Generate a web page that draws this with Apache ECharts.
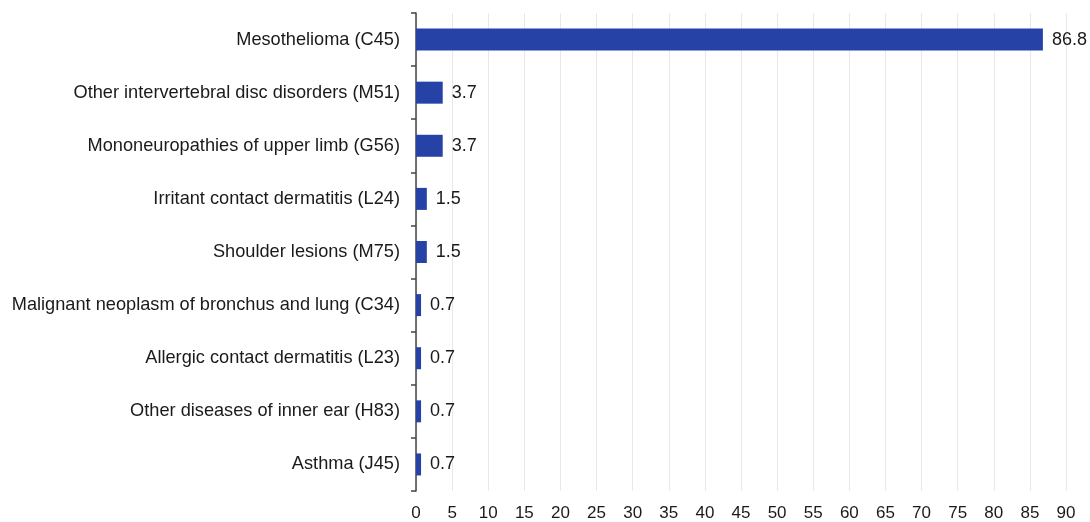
<!DOCTYPE html>
<html lang="en">
<head>
    <meta charset="UTF-8">
    <title>Chart</title>
    <script src="https://cdn.jsdelivr.net/npm/echarts@6/dist/echarts.min.js"></script>
    <style>
        html, body { margin: 0; padding: 0; background: #fff; }
        #chart1 { width: 1090px; height: 522px; }
    </style>
</head>
<body>
    <div id="chart1"></div>
    <script type="text/javascript">
        var categories = [
            'Mesothelioma (C45)',
            'Other intervertebral disc disorders (M51)',
            'Mononeuropathies of upper limb (G56)',
            'Irritant contact dermatitis (L24)',
            'Shoulder lesions (M75)',
            'Malignant neoplasm of bronchus and lung (C34)',
            'Allergic contact dermatitis (L23)',
            'Other diseases of inner ear (H83)',
            'Asthma (J45)'
        ];
        var values = [86.8, 3.7, 3.7, 1.5, 1.5, 0.7, 0.7, 0.7, 0.7];

        var chart1 = echarts.init(document.getElementById('chart1'));
        var option = {
            animation: false,
            grid: {
                left: 416,
                right: 24,
                top: 13,
                bottom: 31
            },
            xAxis: {
                type: 'value',
                min: 0,
                max: 90,
                interval: 5,
                axisLine: { show: false },
                axisTick: { show: false },
                axisLabel: {
                    color: '#1a1a1a',
                    fontSize: 17,
                    fontFamily: 'Liberation Sans',
                    margin: 14
                },
                splitLine: {
                    show: true,
                    lineStyle: { color: '#e8e8e8', width: 1 }
                }
            },
            yAxis: {
                type: 'category',
                inverse: true,
                data: categories,
                axisLine: {
                    show: true,
                    lineStyle: { color: '#444', width: 1.5 }
                },
                axisTick: {
                    show: true,
                    length: 5,
                    lineStyle: { color: '#444', width: 1.5 }
                },
                axisLabel: {
                    color: '#1a1a1a',
                    fontSize: 18.2,
                    fontFamily: 'Liberation Sans',
                    margin: 16
                }
            },
            series: [{
                type: 'bar',
                data: values,
                barWidth: 22,
                itemStyle: { color: '#2742a7' },
                label: {
                    show: true,
                    position: 'right',
                    distance: 9,
                    color: '#1a1a1a',
                    fontSize: 18,
                    fontFamily: 'Liberation Sans',
                    formatter: function (p) { return p.value.toFixed(1); }
                }
            }]
        };
        chart1.setOption(option);
    </script>
</body>
</html>
